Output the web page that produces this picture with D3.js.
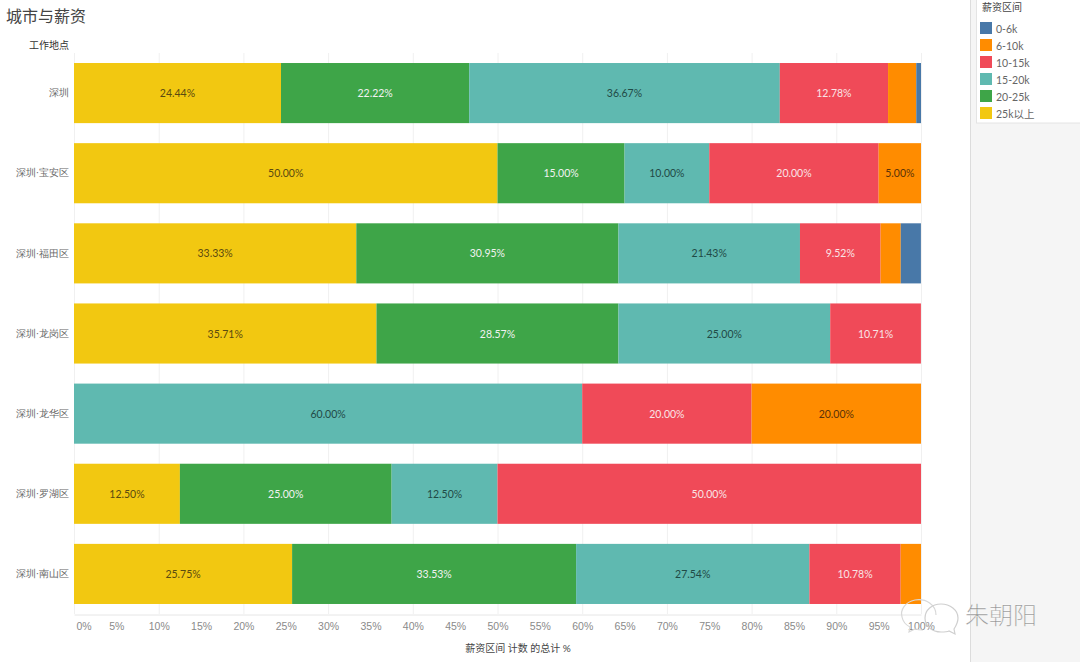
<!DOCTYPE html>
<html>
<head>
<meta charset="utf-8">
<script src="https://cdn.jsdelivr.net/npm/d3@7/dist/d3.min.js"></script>
<style>
  html, body { margin: 0; padding: 0; background: #fff; }
  svg { display: block; font-family: Lato, "Noto Sans CJK SC", sans-serif; }
</style>
</head>
<body>
<div id="chartContainer"></div>
<script>
// values, % of each city row
var cities = ["深圳", "深圳·宝安区", "深圳·福田区", "深圳·龙岗区", "深圳·龙华区", "深圳·罗湖区", "深圳·南山区"];
var bands = ["25k以上", "20-25k", "15-20k", "10-15k", "6-10k", "0-6k"];
var legendOrder = ["0-6k", "6-10k", "10-15k", "15-20k", "20-25k", "25k以上"];
var colors = ["#f2c811", "#3ea548", "#5fb9b0", "#f04a58", "#ff8c00", "#4878a8"];
var textColors = ["#5a4a10", "#f2f2f2", "#1f4a46", "#f9e4e6", "#5a3208", "#ffffff"];

var over25k = [24.44, 50.00, 33.33, 35.71, 0, 12.50, 25.75];
var k20to25 = [22.22, 15.00, 30.95, 28.57, 0, 25.00, 33.53];
var k15to20 = [36.67, 10.00, 21.43, 25.00, 60.00, 12.50, 27.54];
var k10to15 = [12.78, 20.00, 9.52, 10.71, 20.00, 50.00, 10.78];
var k6to10 = [3.33, 5.00, 2.38, 0, 20.00, 0, 2.40];
var k0to6 = [0.56, 0, 2.38, 0, 0, 0, 0];
var series = [over25k, k20to25, k15to20, k10to15, k6to10, k0to6];

var xTicks = d3.range(0, 101, 5);
var gridTicks = d3.range(0, 101, 10);

var width = 1080, height = 662;

var svg = d3.select("#chartContainer")
  .append("svg")
  .attr("width", width)
  .attr("height", height);

var x = d3.scaleLinear().domain([0, 100]).range([74, 921]);
var y = d3.scaleBand().domain(cities).range([53, 614]).paddingInner(0.25).paddingOuter(0.125);
var color = d3.scaleOrdinal().domain(bands).range(colors);

// right hand panel
svg.append("rect").attr("x", 970).attr("y", 0).attr("width", 110).attr("height", height).attr("fill", "#f5f5f5");
svg.append("line").attr("x1", 970.5).attr("x2", 970.5).attr("y1", 0).attr("y2", height).attr("stroke", "#dcdcdc");

// grid
svg.append("g").selectAll("line")
  .data(gridTicks)
  .join("line")
  .attr("x1", d => x(d) + 0.5)
  .attr("x2", d => x(d) + 0.5)
  .attr("y1", 53)
  .attr("y2", 614)
  .attr("stroke", "#f0f0f0");

// stacked bars
var stackData = cities.map(function(c, i) {
  var row = { city: c };
  bands.forEach(function(b, j) { row[b] = series[j][i]; });
  return row;
});
var layers = d3.stack().keys(bands)(stackData);

svg.append("g").selectAll("g")
  .data(layers)
  .join("g")
  .attr("fill", d => color(d.key))
  .selectAll("rect")
  .data(d => d)
  .join("rect")
  .attr("x", d => x(d[0]))
  .attr("y", d => y(d.data.city))
  .attr("width", d => x(d[1]) - x(d[0]))
  .attr("height", y.bandwidth());

// only segments of 5% and up carry a label
layers.forEach(function(layer, j) {
  svg.append("g").selectAll("text")
    .data(layer.filter(d => d[1] - d[0] >= 5))
    .join("text")
    .attr("x", d => (x(d[0]) + x(d[1])) / 2)
    .attr("y", d => y(d.data.city) + y.bandwidth() / 2 + 4)
    .attr("text-anchor", "middle")
    .attr("font-size", 10.5)
    .attr("fill", textColors[j])
    .text(d => (d[1] - d[0]).toFixed(2) + "%");
});

// x axis
var xAxis = d3.axisBottom(x)
  .tickValues(xTicks)
  .tickSize(0)
  .tickPadding(8)
  .tickFormat(d => d + "%");
var xg = svg.append("g").attr("transform", "translate(0,614.5)").call(xAxis);
xg.select(".domain").attr("stroke", "#e6e6e6");
xg.selectAll("text").attr("font-size", 10.5).attr("fill", "#8a8a8a").attr("font-family", "inherit");
xg.selectAll("text").filter(d => d === 0).attr("text-anchor", "start").attr("dx", 2);

svg.append("text")
  .attr("x", 518).attr("y", 651.5)
  .attr("text-anchor", "middle")
  .attr("font-size", 10)
  .attr("fill", "#444")
  .text("薪资区间 计数 的总计 %");

// y axis
var yAxis = d3.axisLeft(y).tickSize(0).tickPadding(5);
var yg = svg.append("g").attr("transform", "translate(74,0)").call(yAxis);
yg.select(".domain").remove();
yg.selectAll("text").attr("font-size", 10).attr("fill", "#666").attr("font-family", "inherit");

svg.append("text")
  .attr("x", 69).attr("y", 48.5)
  .attr("text-anchor", "end")
  .attr("font-size", 10)
  .attr("fill", "#333")
  .text("工作地点");

// title
svg.append("text")
  .attr("x", 6).attr("y", 21.5)
  .attr("font-size", 16)
  .attr("fill", "#444")
  .text("城市与薪资");

// legend
svg.append("rect").attr("x", 976.5).attr("y", -1).attr("width", 110).attr("height", 124)
  .attr("fill", "#fff").attr("stroke", "#e4e4e4");
svg.append("text").attr("x", 982).attr("y", 11).attr("font-size", 10).attr("fill", "#444").text("薪资区间");

var legendY = d3.scalePoint().domain(legendOrder).range([22, 107]);
var legend = svg.append("g").selectAll("g")
  .data(legendOrder)
  .join("g")
  .attr("transform", d => "translate(980," + legendY(d) + ")");
legend.append("rect").attr("width", 12).attr("height", 12).attr("fill", d => color(d));
legend.append("text").attr("x", 16).attr("y", 10.5).attr("font-size", 10.5).attr("fill", "#666").text(d => d);

// watermark
var mark = svg.append("g").attr("fill", "none").attr("stroke", "#d8d8d8").attr("stroke-width", 1.2);
mark.append("path").attr("d", "M936 615 C936 605 926 598 915 600 C905 602 900 610 902 617 C903 622 906 625 910 627 L909 632 L915 629 C918 630 921 630 923 630");
mark.append("path").attr("d", "M958 618 C958 610 950 604 941 604 C932 604 925 610 925 618 C925 626 932 632 941 632 C944 632 947 632 949 631 L955 634 L954 629 C956 626 958 622 958 618 Z").attr("stroke", "#cfcfcf");
svg.append("text")
  .attr("x", 965).attr("y", 624)
  .attr("font-size", 24)
  .attr("fill", "#8c8c8c")
  .attr("stroke", "#fff")
  .attr("stroke-width", 0.3)
  .style("font-weight", 300)
  .text("朱朝阳");
</script>
</body>
</html>
